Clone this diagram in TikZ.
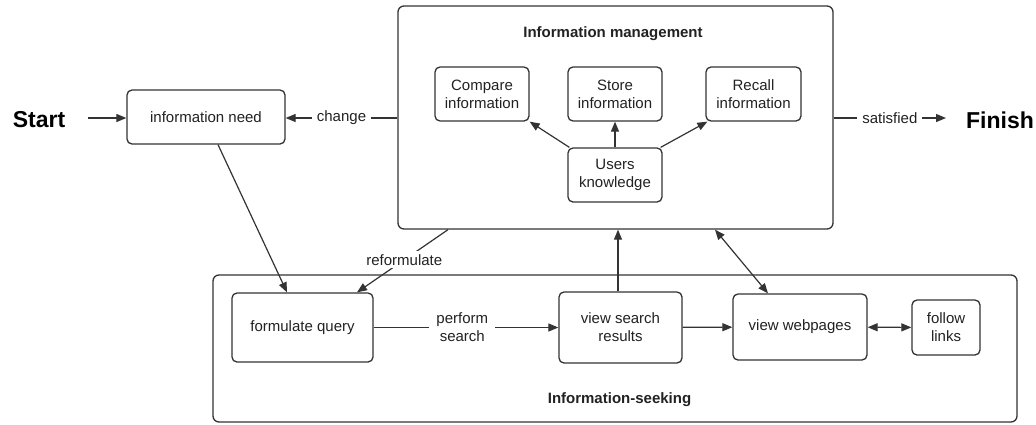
\documentclass[tikz,border=0pt]{standalone}
\usepackage{fontspec}
\setmainfont{Liberation Sans}
\usetikzlibrary{arrows.meta}
\definecolor{ink}{HTML}{222222}
\definecolor{edge}{HTML}{333333}
\tikzset{
  box/.style={draw=edge, line width=1.3pt, rounded corners=5pt, fill=white, align=center, text=ink, inner sep=2pt, font=\fontsize{15}{18}\selectfont},
  frame/.style={draw=edge, line width=1.3pt, rounded corners=6pt},
  arr/.style={draw=edge, line width=1.2pt, -{Triangle[length=10pt,width=8pt]}},
  darr/.style={draw=edge, line width=1.2pt, {Triangle[length=10pt,width=8pt]}-{Triangle[length=10pt,width=8pt]}},
  lbl/.style={fill=white, inner sep=5pt, text=ink, align=center, font=\fontsize{15}{18}\selectfont},
  big/.style={inner sep=0pt, text=black, font=\fontsize{23}{27}\selectfont\bfseries},
  title/.style={inner sep=0pt, text=ink, font=\fontsize{15}{18}\selectfont\bfseries}
}
\begin{document}
\begin{tikzpicture}[x=1pt,y=-1pt]
\useasboundingbox[fill=white] (0,0) rectangle (1036,424);
% containers
\node[frame, minimum width=435pt, minimum height=223pt] (im) at (615.5,117.5) {};
\node[frame, minimum width=804pt, minimum height=147pt] (seek) at (615,348.5) {};
\node[title] (imt) at (613,34) {Information management};
\node[title] (seekt) at (619.5,400) {Information-seeking};
% outer text
\node[big] (start) at (39,120) {Start};
\node[big] (finish) at (1000,120) {Finish};
% boxes
\node[box, minimum width=158pt, minimum height=54pt] (need) at (206,117) {information need};
\node[box, minimum width=94pt, minimum height=54pt] (compare) at (482,94) {Compare\\information};
\node[box, minimum width=94pt, minimum height=54pt] (store) at (615,94) {Store\\information};
\node[box, minimum width=95pt, minimum height=54pt] (recall) at (753.5,94) {Recall\\information};
\node[box, minimum width=94pt, minimum height=54pt] (users) at (615,175) {Users\\knowledge};
\node[box, minimum width=141pt, minimum height=69pt] (fq) at (302.5,327.5) {formulate query};
\node[box, minimum width=123pt, minimum height=71pt] (vsr) at (620.5,327.5) {view search\\results};
\node[box, minimum width=134pt, minimum height=66pt] (vw) at (800,327) {view webpages};
\node[box, minimum width=68pt, minimum height=55pt] (fl) at (946,327.5) {follow\\links};
% free ends
\coordinate (s1) at (88,118);
\coordinate (f1) at (946,118);
% connectors
\draw[arr] (s1) -- (need.west |- s1);
\draw[arr] (im.west |- s1) -- node[lbl]{change} (need.east |- s1);
\draw[arr] (im.east |- f1) -- node[lbl]{satisfied} (f1);
\draw[arr] ([xshift=2pt]users.north west) -- (compare.south east);
\draw[arr] (users) -- (store);
\draw[arr] ([xshift=-2pt]users.north east) -- ([xshift=2pt]recall.south west);
\draw[arr] ([xshift=12pt]need.south) -- ([xshift=-15.5pt]fq.north);
\draw[arr] ([xshift=-167.5pt]im.south) -- node[lbl, inner sep=3pt, pos=0.48]{reformulate} ([xshift=54.5pt]fq.north);
\draw[arr] (fq) -- node[lbl, pos=0.48, inner sep=7pt]{perform\\search} (vsr);
\draw[arr] ([xshift=-2.5pt]vsr.north) -- ([xshift=-2.5pt]vsr.north |- im.south);
\draw[arr] (vsr) -- (vw);
\draw[darr] ([xshift=-32pt]vw.north) -- ([xshift=99.5pt]im.south);
\draw[darr] (vw) -- (fl);
\end{tikzpicture}
\end{document}
